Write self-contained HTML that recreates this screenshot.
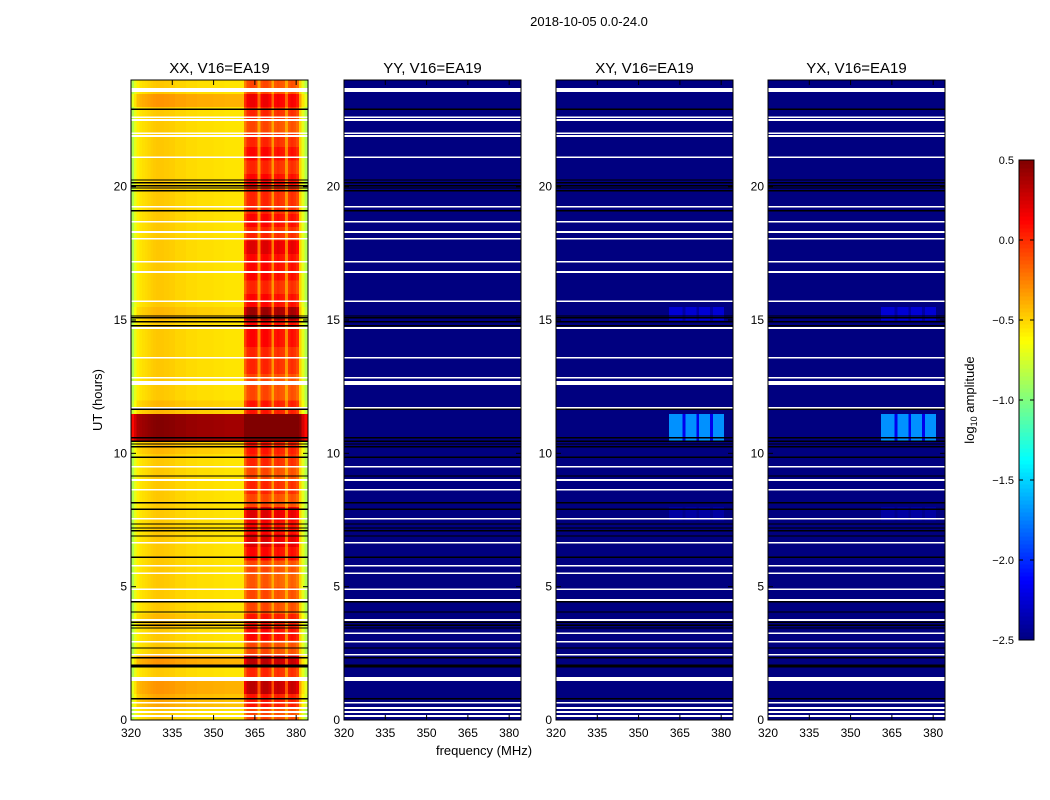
<!DOCTYPE html>
<html><head><meta charset="utf-8">
<style>
html,body{margin:0;padding:0;background:#fff;}
svg{display:block;font-family:"Liberation Sans",sans-serif;}
</style></head>
<body>
<svg id="fig" width="1050" height="800" viewBox="0 0 1050 800">
<rect width="1050" height="800" fill="#fff"/>
<text x="589" y="26" font-size="13" text-anchor="middle">2018-10-05 0.0-24.0</text>
<g id="panels"></g>
<text x="102" y="400" font-size="13" text-anchor="middle" transform="rotate(-90 102 400)">UT (hours)</text>
<text x="484" y="755" font-size="13" text-anchor="middle">frequency (MHz)</text>
<g id="cbar"></g>
</svg>
<script>
// ---- data ----
const freqStart = 320;           // MHz, bin width 1 MHz
const freqBase = [-0.85,-0.7,-0.58,-0.55,-0.53,-0.52,-0.5,-0.48,-0.47,-0.46,-0.46,-0.46,-0.47,-0.47,-0.48,-0.48,-0.5,-0.5,-0.5,-0.5,-0.52,-0.52,-0.52,-0.52,-0.53,-0.53,-0.53,-0.53,-0.53,-0.53,-0.54,-0.54,-0.54,-0.54,-0.55,-0.55,-0.55,-0.55,-0.55,-0.55,-0.55,-0.3,-0.15,-0.12,-0.12,-0.15,-0.38,-0.15,-0.12,-0.12,-0.18,-0.38,-0.18,-0.15,-0.18,-0.2,-0.38,-0.2,-0.15,-0.18,-0.25,-0.5,-0.7,-0.85];
const bandMask = [0,0,0,0,0,0,0,0,0,0,0,0,0,0,0,0,0,0,0,0,0,0,0,0,0,0,0,0,0,0,0,0,0,0,0,0,0,0,0,0,0,1,1,1,1,1,0.4,1,1,1,1,0.4,1,1,1,1,0.4,1,1,1,1,0,0,0];
// per 0.5 hour rows, from 0h upwards
const timeOffsetXX = [0,0.1,0.15,0,0.15,0,0,0.05,0,0,0,0,0,0,0,0,0,0,0,0,0.05,0.95,0.95,0.05,0,0,0,0,0,0,0.05,0,0,0,0,0,0,0,0,0,0,0,0,0,0,0,0.15,0];
const bandBoostXX = [0.05,0.1,0.3,0.15,0.3,0.05,0.25,0.15,0.05,0.05,0,0.05,0.25,0.35,0.25,0.35,0.05,0.15,0.05,0.15,0.15,0.3,0.3,0.15,0.05,0.05,0.15,0.15,0.25,0.25,0.5,0.25,0.15,0.25,0.25,0.35,0.15,0.25,0.15,0.15,0.25,0.15,0.25,0.15,0.05,0.15,0.15,0.05];
const crossBoost = [0,0,0,0,0,0,0,0,0,0,0,0,0,0,0,0.1,0,0,0,0,0,0.8,0.8,0,0,0,0,0,0,0,0.25,0,0,0,0,0,0,0,0,0,0,0,0,0,0,0,0,0];
const whiteFlags = [23.63,22.61,22.5,22.01,21.9,21.11,19.24,18.68,18.3,18.04,17.18,16.8,15.71,14.7,13.58,12.83,12.64,11.7,9.49,9.0,8.63,7.54,6.64,5.78,5.51,4.91,4.5,3.75,3.26,2.93,2.44,1.54,0.64,0.45,0.3,0.15];
const whiteWidth = [0.15,0.06,0.06,0.06,0.06,0.06,0.06,0.06,0.06,0.06,0.06,0.06,0.06,0.06,0.06,0.06,0.14,0.06,0.06,0.06,0.06,0.06,0.06,0.06,0.06,0.06,0.06,0.06,0.06,0.06,0.06,0.15,0.06,0.06,0.06,0.06];
const blackFlags = [22.91,20.25,20.14,20.03,19.95,19.84,19.09,15.15,15.08,14.93,14.78,11.66,10.58,10.46,10.35,10.24,9.86,9.15,8.14,7.91,7.35,7.2,7.09,6.9,6.11,4.43,4.05,3.67,3.56,3.45,2.7,2.33,2.06,1.99,0.79];
const panelTitles = ["XX, V16=EA19","YY, V16=EA19","XY, V16=EA19","YX, V16=EA19"];
const xTicks = [320,335,350,365,380];
const yTicks = [0,5,10,15,20];
const cbarTicks = ["0.5","0.0","\u22120.5","\u22121.0","\u22121.5","\u22122.0","\u22122.5"];
const cbarTickVals = [0.5,0,-0.5,-1,-1.5,-2,-2.5];

// ---- geometry ----
const panelX = [131,344,556,768], PW = 177, PT = 80, PB = 720;
const fMin = 320, fMax = 384.3, tMin = 0, tMax = 24, vMin = -2.5, vMax = 0.5;
const NS = 'http://www.w3.org/2000/svg';
function jet(v){
  let t = Math.max(0,Math.min(1,(v-vMin)/(vMax-vMin)));
  const c = x => Math.round(255*Math.max(0,Math.min(1,1.5-Math.abs(4*t-x))));
  return `rgb(${c(3)},${c(2)},${c(1)})`;
}
function mk(tag, attrs, parent){
  const e = document.createElementNS(NS, tag);
  for (const k in attrs) e.setAttribute(k, attrs[k]);
  parent.appendChild(e); return e;
}
const panels = document.getElementById('panels');
panelTitles.forEach((title, p) => {
  const x0 = panelX[p];
  const xs = f => x0 + (f - fMin) / (fMax - fMin) * PW;
  const ys = h => PB - (h - tMin) / (tMax - tMin) * (PB - PT);
  const g = mk('g', {}, panels);
  
  
  const cp = mk('clipPath', {id: 'clip' + p}, g);
  mk('rect', {x: x0, y: PT, width: PW, height: PB-PT}, cp);
  const hm = mk('g', {'clip-path': `url(#clip${p})`, 'shape-rendering': 'crispEdges'}, g);
  
  
  for (let r = 0; r < timeOffsetXX.length; r++) {
    const h0 = r * 0.5, h1 = h0 + 0.5;
    for (let c = 0; c < freqBase.length; c++) {
      let v;
      if (p === 0) v = freqBase[c] + timeOffsetXX[r] + bandBoostXX[r] * bandMask[c];
      else if (p === 1) v = -2.5;
      else v = -2.5 + crossBoost[r] * bandMask[c];
      const f0 = freqStart + c;
      const cell = mk('rect', {x: xs(f0), y: ys(h1), width: xs(f0+1)-xs(f0)+0.5, height: ys(h0)-ys(h1)+0.5, fill: jet(v)}, hm);
      
      
    }
  }
  whiteFlags.forEach((h, i) => {
    const w = whiteWidth[i];
    const l = mk('rect', {x: x0, y: ys(h + w/2), width: PW, height: ys(h - w/2) - ys(h + w/2), fill: '#fff'}, hm);
    
    
  });
  blackFlags.forEach(h => {
    const l = mk('rect', {x: x0, y: ys(h) - 0.7, width: PW, height: 1.4, fill: '#000'}, hm);
    
    
  });
  const fr = mk('rect', {x: x0, y: PT, width: PW, height: PB-PT, fill: 'none', stroke: '#000', 'stroke-width': 1}, g);
  
  
  const tt = mk('text', {x: x0 + PW/2, y: PT - 7, 'font-size': 15, 'text-anchor': 'middle'}, g);
  tt.textContent = title;
  
  
  xTicks.forEach(f => {
    const X = xs(f);
    mk('line', {x1: X, x2: X, y1: PB, y2: PB-5, stroke: '#000'}, g);
    mk('line', {x1: X, x2: X, y1: PT, y2: PT+5, stroke: '#000'}, g);
    const t = mk('text', {x: X, y: PB + 17, 'font-size': 12, 'text-anchor': 'middle'}, g);
    t.textContent = f;
    
    
  });
  yTicks.forEach(h => {
    const Y = ys(h);
    mk('line', {x1: x0, x2: x0+5, y1: Y, y2: Y, stroke: '#000'}, g);
    mk('line', {x1: x0+PW, x2: x0+PW-5, y1: Y, y2: Y, stroke: '#000'}, g);
    const t = mk('text', {x: x0 - 4, y: Y + 4, 'font-size': 12, 'text-anchor': 'end'}, g);
    t.textContent = h;
    
    
  });
});
// colorbar
const cb = document.getElementById('cbar');


const CX = 1019, CW = 15, CT = 160, CB = 640;
const cy = v => CB - (v - vMin) / (vMax - vMin) * (CB - CT);
for (let i = 0; i < 120; i++) {
  const v0 = vMin + i * (vMax - vMin) / 120, v1 = v0 + (vMax - vMin) / 120;
  mk('rect', {x: CX, y: cy(v1), width: CW, height: cy(v0) - cy(v1) + 0.5, fill: jet((v0+v1)/2), 'shape-rendering': 'crispEdges'}, cb);
}
mk('rect', {x: CX, y: CT, width: CW, height: CB-CT, fill: 'none', stroke: '#000'}, cb);
cbarTicks.forEach((lab, i) => {
  const Y = cy(cbarTickVals[i]);
  mk('line', {x1: CX, x2: CX+4, y1: Y, y2: Y, stroke: '#000'}, cb);
  mk('line', {x1: CX+CW, x2: CX+CW-4, y1: Y, y2: Y, stroke: '#000'}, cb);
  const t = mk('text', {x: CX - 5, y: Y + 4, 'font-size': 11, 'text-anchor': 'end'}, cb);
  t.textContent = lab;
  
  
});
const cl = mk('text', {x: 974, y: 400, 'font-size': 13, 'text-anchor': 'middle', transform: 'rotate(-90 974 400)'}, cb);
cl.innerHTML = 'log<tspan font-size="9" dy="3">10</tspan><tspan dy="-3"> amplitude</tspan>';


</script>
</body></html>
